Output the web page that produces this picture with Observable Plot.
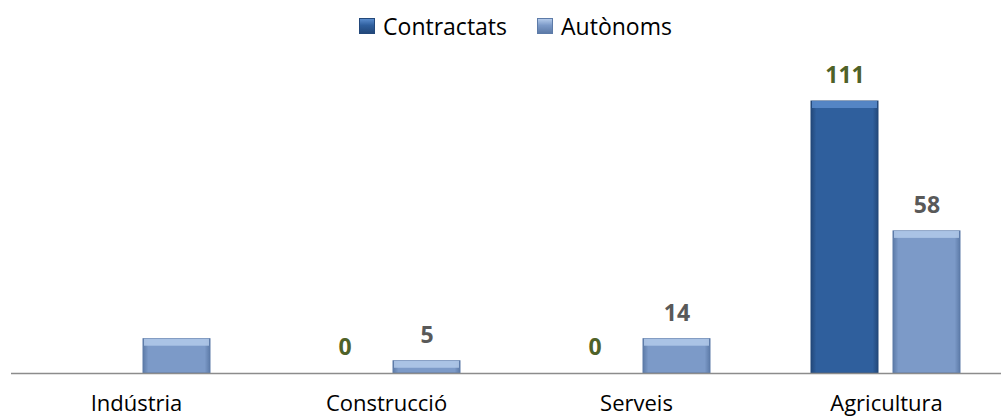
<!DOCTYPE html>
<html>
<head>
<meta charset="utf-8">
<script src="https://cdn.jsdelivr.net/npm/d3@7"></script>
<script src="https://cdn.jsdelivr.net/npm/@observablehq/plot@0.6"></script>
<style>
  html, body { margin: 0; padding: 0; background: #fff; }
  body { width: 1001px; height: 419px; overflow: hidden; font-family: "Open Sans", sans-serif; }
  #legend { height: 50px; display: flex; justify-content: center; align-items: center; padding-left: 30px; box-sizing: border-box; font-size: 23px; color: #000; padding-top: 2px; }
  .item { display: flex; align-items: center; margin: 0 15px; }
  .sw { width: 16px; height: 16px; margin-right: 8px; box-sizing: border-box; }
</style>
</head>
<body>
<div id="legend"></div>
<div id="chart"></div>
<script>
const categories = ["Indústria", "Construcció", "Serveis", "Agricultura"];
const series = ["Contractats", "Autònoms"];
const contractats = [null, 0, 0, 111];
const autonoms = [14, 5, 14, 58];
const showContractatsLabel = [false, true, true, true];
const showAutonomsLabel = [false, true, true, true];

const seriesColors = ["#2F5F9D", "#7C9AC8"];
const seriesEdge = ["#23487A", "#5D7BA8"];
const seriesTop = ["#5A8CCD", "#B3CAEA"];
const labelColors = ["#4F6228", "#595959"];

const data = [];
categories.forEach((c, i) => {
  data.push({category: c, series: series[0], value: contractats[i], show: showContractatsLabel[i]});
  data.push({category: c, series: series[1], value: autonoms[i], show: showAutonomsLabel[i]});
});
const bars = data.filter(d => d.value != null && d.value > 0);
const labels = data.filter(d => d.value != null && d.show);

const plot = Plot.plot({
  width: 1001,
  height: 369,
  marginTop: 51,
  marginBottom: 46,
  marginLeft: 10,
  marginRight: 0,
  style: {fontFamily: "Open Sans, sans-serif", background: "transparent"},
  fx: {domain: categories, range: [9.7, 1012], paddingInner: 0, paddingOuter: 0, label: null, axis: null},
  x: {domain: series, paddingInner: 0.18, paddingOuter: 0.6, axis: null},
  y: {domain: [0, 111], axis: null},
  color: {domain: series, range: ["url(#gC)", "url(#gA)"]},
  marks: [
    Plot.barY(bars, {fx: "category", x: "series", y: "value", fill: "series", stroke: d => seriesEdge[series.indexOf(d.series)], strokeWidth: 1}),
    Plot.barY(bars, {fx: "category", x: "series", y1: "value", y2: "value", insetBottom: -7, insetLeft: 1, insetRight: 1, fill: d => seriesTop[series.indexOf(d.series)], fillOpacity: 0.85}),
    Plot.ruleY([0], {stroke: "#8C8C8C", strokeWidth: 1.5}),
    Plot.text(labels, {fx: "category", x: "series", y: "value", text: d => String(d.value), dy: -26, fontSize: 23, fontWeight: "bold", fill: d => labelColors[series.indexOf(d.series)]}),
    Plot.axisFx({anchor: "bottom", tickSize: 0, tickPadding: 22, fontSize: 22, label: null, fill: "#000"})
  ]
});

// gradient defs for the bevelled bars
const ns = "http://www.w3.org/2000/svg";
const defs = document.createElementNS(ns, "defs");
[["gC", 0], ["gA", 1]].forEach(([id, k]) => {
  const g = document.createElementNS(ns, "linearGradient");
  g.setAttribute("id", id);
  g.setAttribute("x1", "0"); g.setAttribute("x2", "1"); g.setAttribute("y1", "0"); g.setAttribute("y2", "0");
  [[0, seriesEdge[k]], [0.08, seriesColors[k]], [0.92, seriesColors[k]], [1, seriesEdge[k]]].forEach(([o, c]) => {
    const s = document.createElementNS(ns, "stop");
    s.setAttribute("offset", o); s.setAttribute("stop-color", c);
    g.appendChild(s);
  });
  defs.appendChild(g);
});
plot.insertBefore(defs, plot.firstChild);
document.getElementById("chart").appendChild(plot);

// legend
const legend = document.getElementById("legend");
series.forEach((s, k) => {
  const it = document.createElement("div");
  it.className = "item";
  const sw = document.createElement("div");
  sw.className = "sw";
  sw.style.background = `linear-gradient(to bottom, ${seriesTop[k]} 0%, ${seriesColors[k]} 45%, ${seriesEdge[k]} 100%)`;
  sw.style.border = `1px solid ${seriesEdge[k]}`;
  const t = document.createElement("span");
  t.textContent = s;
  it.appendChild(sw); it.appendChild(t);
  legend.appendChild(it);
});
</script>
</body>
</html>
